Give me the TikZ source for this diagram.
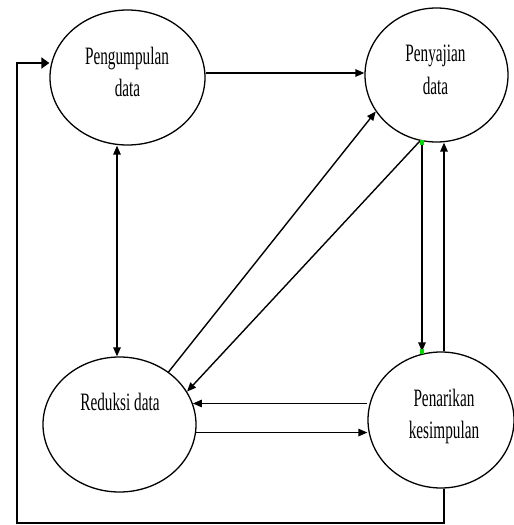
\documentclass[tikz,border=0pt]{standalone}
\usepackage{fontspec}
\setmainfont{Liberation Serif}[FakeStretch=0.61]
\usetikzlibrary{arrows.meta,shapes.geometric}
\begin{document}
\begin{tikzpicture}[x=1pt,y=-1pt,
  proc/.style={draw,ellipse,line width=1.3pt,inner sep=0pt},
  lbl/.style={anchor=base,font=\fontsize{25}{32}\selectfont,inner sep=0pt},
  conn/.style={line width=1.4pt,-{Triangle[length=9pt,width=7.5pt]}},
  both/.style={line width=1.4pt,{Triangle[length=9pt,width=7.5pt]}-{Triangle[length=9pt,width=7.5pt]}},
  loopline/.style={line width=2.3pt,-{Triangle[length=8pt,width=11pt]}},
  handle/.style={fill=green!85!black,draw=none,minimum width=4pt,minimum height=5pt,inner sep=0pt}
]
\useasboundingbox (0,0) rectangle (514,525);
% processes
\node[proc,minimum width=155pt,minimum height=135pt] (e1) at (127.5,77.5) {};
\node[proc,minimum width=143pt,minimum height=134pt] (e2) at (436.5,75) {};
\node[proc,minimum width=153pt,minimum height=135pt] (e3) at (119.5,424.5) {};
\node[proc,minimum width=146pt,minimum height=136pt] (e4) at (441,420) {};
% labels
\node[lbl] (t1a) at (127,64.3) {Pengumpulan};
\node[lbl] (t1b) at (127.5,96.7) {data};
\node[lbl] (t2a) at (435.5,61.7) {Penyajian};
\node[lbl] (t2b) at (435.5,94) {data};
\node[lbl] (t3) at (120,410) {Reduksi data};
\node[lbl] (t4a) at (444,406) {Penarikan};
\node[lbl] (t4b) at (444,438.3) {kesimpulan};
% helper coordinates
\coordinate (yA) at (0,73);
\coordinate (xB) at (117,0);
\coordinate (xF) at (422,0);
\coordinate (xG) at (444,0);
\coordinate (xC) at (444,0);
\coordinate (cBL) at (17,523);
\coordinate (yC) at (0,63);
% connectors
\draw[conn] (e1.east |- yA) -- (e2.west |- yA);
\draw[both] (e1.south -| xB) -- (e3.north -| xB);
\draw[conn] (e3.47.3) -- (e2.211.7);
\draw[conn] (e2.256.7) -- (e3.26.1);
\draw[conn] (e2.south -| xF) -- (e4.north -| xF);
\draw[conn] (e4.north -| xG) -- (e2.south -| xG);
\draw[conn] (e4.west |- e3.16.5) -- (e3.16.5);
\draw[conn] (e3.-6.4) -- (e4.west |- e3.-6.4);
\draw[loopline] (e4.south -| xC) |- (cBL) |- (e1.west |- yC);
% selection handles
\node[handle] (h1) at (e2.south -| xF) {};
\node[handle] (h2) at (e4.north -| xF) {};
\end{tikzpicture}
\end{document}
